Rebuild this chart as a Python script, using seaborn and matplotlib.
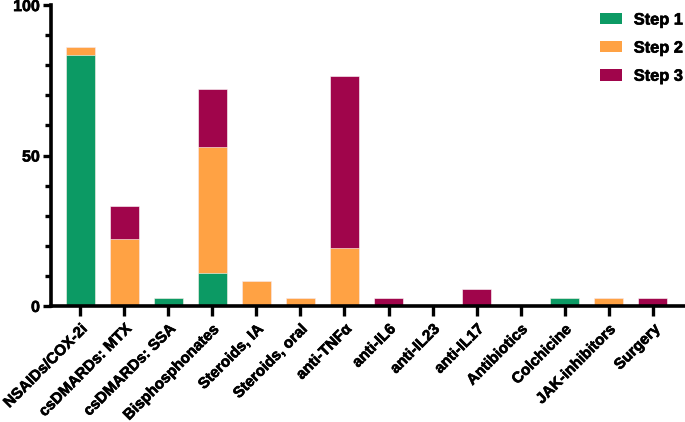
import matplotlib
matplotlib.use("Agg")
import matplotlib.pyplot as plt
from matplotlib.patches import Patch
from matplotlib.ticker import MultipleLocator
from matplotlib.font_manager import FontProperties
import matplotlib.patheffects as pe
import seaborn as sns
import pandas as pd

categories = ["NSAIDs/COX-2i", "csDMARDs: MTX", "csDMARDs: SSA", "Bisphosphonates",
              "Steroids, IA", "Steroids, oral", "anti-TNFα", "anti-IL6", "anti-IL23",
              "anti-IL17", "Antibiotics", "Colchicine", "JAK-inhibitors", "Surgery"]
step1 = [83.3, 0, 2.8, 11.1, 0, 0, 0, 0, 0, 0, 0, 2.8, 0, 0]
step2 = [2.8, 22.2, 0, 41.7, 8.3, 2.8, 19.4, 0, 0, 0, 0, 0, 2.8, 0]
step3 = [0, 11.1, 0, 19.4, 0, 0, 57.0, 2.8, 0, 5.6, 0, 0, 0, 2.8]
series_names = ["Step 1", "Step 2", "Step 3"]
colors = ["#0c9a64", "#ffa244", "#a0054b"]

sns.set_theme(style="ticks")
plt.rcParams["font.family"] = ["Liberation Sans", "DejaVu Sans"]
plt.rcParams["font.weight"] = "bold"

df = pd.DataFrame({"category": categories, "s1": step1, "s2": step2, "s3": step3})
df["c1"] = df["s1"]
df["c2"] = df["s1"] + df["s2"]
df["c3"] = df["c2"] + df["s3"]

fig = plt.figure(figsize=(6.85, 4.22), dpi=100)
ax = fig.add_axes([0.0745, 0.275, 0.9255, 0.713])

for col, colr in zip(["c3", "c2", "c1"], colors[::-1]):
    sns.barplot(data=df, x="category", y=col, color=colr, width=0.66,
                edgecolor="#ffffff", linewidth=0.4, ax=ax, saturation=1)

ax.set_ylim(0, 100)
ax.set_xlim(-0.66, 13.73)
ax.yaxis.set_major_locator(MultipleLocator(50))
ax.yaxis.set_minor_locator(MultipleLocator(10))
ax.set_xlabel("")
ax.set_ylabel("")
for s in ["top", "right"]:
    ax.spines[s].set_visible(False)
for s in ["left", "bottom"]:
    ax.spines[s].set_linewidth(2.6)
    ax.spines[s].set_color("black")
ax.tick_params(axis="x", which="major", length=7, width=2.4, color="black", pad=4.5)
ax.tick_params(axis="y", which="major", length=6, width=2.4, color="black", pad=2)
ax.tick_params(axis="y", which="minor", length=4, width=2.4, color="black")

bold = pe.withStroke(linewidth=0.45, foreground="black")
xfp = FontProperties(family="Liberation Sans", weight="bold", size=11)
ax.set_xticks(range(len(categories)))
ax.set_xticklabels(categories, rotation=45, ha="right", rotation_mode="anchor",
                   fontproperties=xfp, color="black")
for t in ax.get_xticklabels():
    t.set_path_effects([bold])
for t in ax.get_yticklabels():
    t.set_fontproperties(FontProperties(family="Liberation Sans", weight="bold", size=11.5))
    t.set_color("black")
    t.set_path_effects([bold])

handles = [Patch(facecolor=c, edgecolor="none") for c in colors]
leg = ax.legend(handles, series_names, loc="upper left",
                bbox_to_anchor=(600 / 685, 409.5 / 422), bbox_transform=fig.transFigure,
                frameon=False,
                prop=FontProperties(family="Liberation Sans", weight="bold", size=11.8),
                handlelength=1.34, handleheight=0.67, labelspacing=0.8,
                handletextpad=0.72, borderpad=0, borderaxespad=0)
for t in leg.get_texts():
    t.set_color("black")
    t.set_path_effects([bold])

fig.savefig("out.png", dpi=100)
